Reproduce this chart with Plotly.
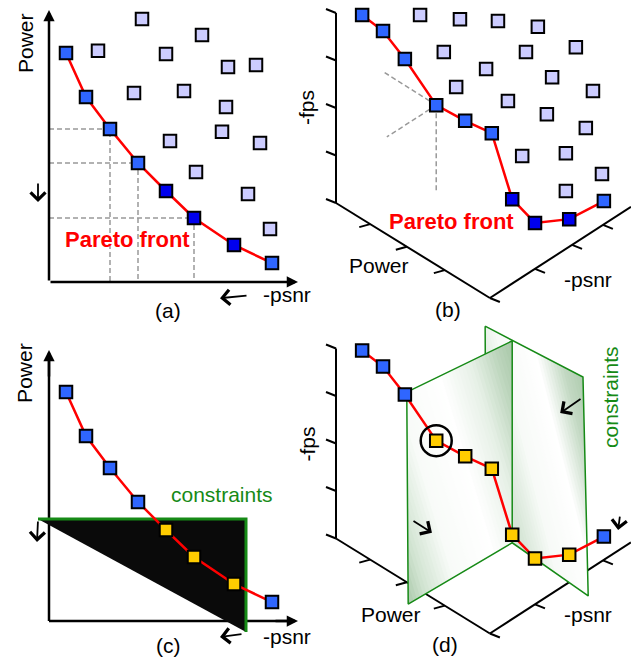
import plotly.graph_objects as go

# ---------------------------------------------------------------------------
# Panels (a) and (c): 2-D objective space, -psnr (x) vs Power (y), 0..10 units
# ---------------------------------------------------------------------------
front_psnr = [0.68, 1.48, 2.44, 3.56, 4.68, 5.80, 7.40, 8.92]
front_power = [8.48, 6.85, 5.67, 4.41, 3.37, 2.37, 1.37, 0.70]
front_kind_a = ["light", "light", "light", "light", "dark", "dark", "dark", "light"]
front_kind_c = ["light", "light", "light", "light", "feasible", "feasible", "feasible", "light"]

dominated_psnr = [3.72, 6.12, 1.96, 4.68, 7.16, 8.28, 3.40, 5.40, 7.08, 4.84, 6.92, 8.44, 5.88, 7.96, 8.84]
dominated_power = [9.74, 9.15, 8.56, 8.44, 7.96, 8.04, 7.00, 7.07, 6.48, 5.22, 5.56, 5.15, 4.07, 3.26, 1.96]

guide_points = [2, 3, 5]          # front points projected onto both axes in (a)

constraint_psnr = [-0.44, 7.88, 7.88]
constraint_power = [3.78, 3.78, -0.41]

# ---------------------------------------------------------------------------
# Panels (b) and (d): 3-D objective space (Power, -psnr, -fps) drawn in an
# oblique projection; u/v are the projected page coordinates
# ---------------------------------------------------------------------------
front3_u = [0.55, 0.99, 1.45, 2.11, 2.72, 3.28, 3.71, 4.19, 4.91, 5.64]
front3_v = [3.96, 3.62, 3.03, 2.06, 1.73, 1.47, 0.08, -0.42, -0.34, 0.04]
front3_kind_b = ["light"] * 6 + ["dark", "dark", "dark", "light"]
front3_kind_d = ["light"] * 3 + ["feasible"] * 6 + ["light"]

dominated3_u = [1.77, 2.61, 3.41, 4.25, 2.27, 4.00, 5.05, 3.16, 4.55, 5.41, 2.53, 3.62, 4.44, 5.26, 3.92, 4.84, 5.60, 4.84]
dominated3_v = [3.96, 3.87, 3.83, 3.71, 3.18, 3.18, 3.28, 2.82, 2.65, 2.36, 2.44, 2.15, 1.87, 1.58, 0.99, 1.05, 0.61, 0.25]

# projections of front point 3 onto the three coordinate planes in (b)
projection_u = [0.97, 1.07, 2.11]
projection_v = [2.78, 1.39, 0.21]
projected_point = 3
selected_point = 3                 # circled solution in (d)

# projected axes: fps axis (vertical), Power axis, -psnr axis
fps_axis_u, fps_axis_v = [0.0, 0.0], [0.0, 4.0]
power_axis_u, power_axis_v = [0.0, 3.24], [0.0, -2.0]
psnr_axis_u, psnr_axis_v = [3.24, 6.21], [-2.0, -0.08]
fps_ticks = [0, 1, 2, 3, 4]
power_ticks_u = [0.72, 1.49, 2.29]
psnr_ticks_u = [3.24, 4.19, 4.97, 5.62]

# constraint planes in (d)
plane1_u = [1.49, 3.71, 3.71, 1.52]
plane1_v = [3.08, 4.16, -0.09, -1.38]
plane2_u = [3.14, 5.20, 5.31, 3.71, 3.16]
plane2_v = [4.47, 3.40, -1.21, -0.09, 0.18]

# ---------------------------------------------------------------------------
COLORS = {"light": "#2f66ff", "dark": "#0000ee", "feasible": "#ffcc00"}
DOMINATED = "#ccccff"
RED = "#ff0000"
GREEN = "#168a16"
FONT = "Liberation Sans, Arial, sans-serif"
W, H = 631, 660
SPLIT_X = 315 / W
LEFT_3D = 290 / W

fig = go.Figure()


def line(xr, yr, xs, ys, color="black", width=2, dash=None, **kw):
    fig.add_trace(go.Scatter(x=xs, y=ys, xaxis=xr, yaxis=yr, mode="lines",
                             line=dict(color=color, width=width, dash=dash),
                             hoverinfo="skip", showlegend=False, **kw))


def squares(xr, yr, xs, ys, colors, size=12.5):
    fig.add_trace(go.Scatter(x=xs, y=ys, xaxis=xr, yaxis=yr, mode="markers",
                             marker=dict(symbol="square", size=size, color=colors,
                                         line=dict(color="black", width=2)),
                             cliponaxis=False, hoverinfo="skip", showlegend=False))


# --- gradient-shaded polygons: thin bands across the polygon, each a solid fill
def _hex(c):
    c = c.lstrip("#")
    return [int(c[i:i + 2], 16) for i in (0, 2, 4)]


def _scale_color(scale, t):
    for (t0, c0), (t1, c1) in zip(scale[:-1], scale[1:]):
        if t0 <= t <= t1:
            f = 0 if t1 == t0 else (t - t0) / (t1 - t0)
            a, b = _hex(c0), _hex(c1)
            return "rgb(%d,%d,%d)" % tuple(round(p + (q - p) * f) for p, q in zip(a, b))
    return scale[-1][1]


def _clip(poly, dx, dy, c, keep_above):
    out = []
    n = len(poly)
    for i in range(n):
        p, q = poly[i], poly[(i + 1) % n]
        fp = p[0] * dx + p[1] * dy - c
        fq = q[0] * dx + q[1] * dy - c
        if not keep_above:
            fp, fq = -fp, -fq
        if fp >= 0:
            out.append(p)
        if (fp >= 0) != (fq >= 0):
            t = fp / (fp - fq)
            out.append((p[0] + t * (q[0] - p[0]), p[1] + t * (q[1] - p[1])))
    return out


def shaded(xr, yr, xs, ys, direction, scale, bands=48, edge=None, edge_width=1.5):
    poly = list(zip(xs, ys))
    dx, dy = direction
    proj = [x * dx + y * dy for x, y in poly]
    lo, hi = min(proj), max(proj)
    step = (hi - lo) / bands
    for k in range(bands):
        piece = _clip(poly, dx, dy, lo + (k - 0.35) * step, True)
        piece = _clip(piece, dx, dy, lo + (k + 1.35) * step, False)
        if len(piece) < 3:
            continue
        px = [p[0] for p in piece] + [piece[0][0]]
        py = [p[1] for p in piece] + [piece[0][1]]
        fig.add_trace(go.Scatter(x=px, y=py, xaxis=xr, yaxis=yr, mode="none",
                                 fill="toself",
                                 fillcolor=_scale_color(scale, (k + 0.5) / bands),
                                 hoverinfo="skip", showlegend=False))
    if edge:
        line(xr, yr, xs + xs[:1], ys + ys[:1], color=edge, width=edge_width)


annotations = []


def label(xr, yr, x, y, text, size=21, color="black", bold=False, angle=0):
    if bold:
        text = "<b>" + text + "</b>"
    annotations.append(dict(x=x, y=y, xref=xr, yref=yr, text=text, showarrow=False,
                            textangle=angle, xanchor="center", yanchor="middle",
                            font=dict(family=FONT, size=size, color=color)))


def arrow(xr, yr, tail, head, width=2, head_style=4, size=1.6, color="black"):
    annotations.append(dict(x=head[0], y=head[1], ax=tail[0], ay=tail[1],
                            xref=xr, yref=yr, axref=xr, ayref=yr, text="",
                            showarrow=True, arrowhead=head_style, arrowsize=size,
                            arrowwidth=width, arrowcolor=color, standoff=0))


# ----------------------------- panel (a) -----------------------------------
xa, ya = "x", "y"
for i in guide_points:
    px, pw = front_psnr[i], front_power[i]
    line(xa, ya, [0, px, px], [pw, pw, 0], color="#999999", width=1.5, dash="5px,3px")
squares(xa, ya, dominated_psnr, dominated_power, DOMINATED)
line(xa, ya, front_psnr, front_power, color=RED, width=2.5)
squares(xa, ya, front_psnr, front_power, [COLORS[k] for k in front_kind_a])
arrow(xa, ya, (0, 0), (0, 10.07), width=2.5, head_style=2, size=0.9)
arrow(xa, ya, (0, 0), (9.96, 0), width=2.5, head_style=2, size=0.9)
arrow(xa, ya, (7.96, -0.50), (6.84, -0.60), width=1.8)
arrow(xa, ya, (-0.44, 3.70), (-0.44, 2.96), width=1.8)
label(xa, ya, -0.96, 8.85, "Power", angle=-90)
label(xa, ya, 9.52, -0.48, "-psnr")
label(xa, ya, 4.76, -1.04, "(a)")
label(xa, ya, 3.12, 1.56, "Pareto front", size=22, color=RED, bold=True)

# ----------------------------- panel (c) -----------------------------------
xc, yc = "x3", "y3"
line(xc, yc, [0, 0], [0, 9.9], width=2.5)
line(xc, yc, [0, 9.8], [0, 0], width=2.5)
fig.add_trace(go.Scatter(x=constraint_psnr + constraint_psnr[:1],
                         y=constraint_power + constraint_power[:1],
                         xaxis=xc, yaxis=yc, mode="none", fill="toself",
                         fillcolor="#0a0a0a", hoverinfo="skip", showlegend=False))
line(xc, yc, constraint_psnr, constraint_power, color=GREEN, width=3)
line(xc, yc, front_psnr, front_power, color=RED, width=2.5)
squares(xc, yc, front_psnr, front_power, [COLORS[k] for k in front_kind_c])
arrow(xc, yc, (0, 9.0), (0, 10.04), width=2.5, head_style=2, size=0.9)
arrow(xc, yc, (9.0, 0), (9.96, 0), width=2.5, head_style=2, size=0.9)
arrow(xc, yc, (7.76, -0.48), (6.84, -0.59), width=1.8)
arrow(xc, yc, (-0.44, 3.74), (-0.48, 2.93), width=1.8)
label(xc, yc, -0.96, 9.19, "Power", angle=-90)
label(xc, yc, 9.52, -0.59, "-psnr")
label(xc, yc, 4.76, -0.89, "(c)")
label(xc, yc, 6.92, 4.70, "constraints", color=GREEN)


# ------------------------- 3-D axes for (b), (d) ---------------------------
def axes3d(xr, yr):
    line(xr, yr, fps_axis_u, fps_axis_v, width=2)
    line(xr, yr, power_axis_u, power_axis_v, width=2)
    line(xr, yr, psnr_axis_u, psnr_axis_v, width=2)
    for t in fps_ticks:
        line(xr, yr, [0, -0.21], [t, t + 0.084], width=2)
    slope_p = (power_axis_v[1] - power_axis_v[0]) / (power_axis_u[1] - power_axis_u[0])
    for u in power_ticks_u:
        v = power_axis_v[0] + slope_p * (u - power_axis_u[0])
        line(xr, yr, [u, u - 0.23], [v, v - 0.063], width=2)
    slope_s = (psnr_axis_v[1] - psnr_axis_v[0]) / (psnr_axis_u[1] - psnr_axis_u[0])
    for u in psnr_ticks_u:
        v = psnr_axis_v[0] + slope_s * (u - psnr_axis_u[0])
        line(xr, yr, [u, u + 0.21], [v, v - 0.084], width=2)


# ----------------------------- panel (b) -----------------------------------
xb, yb = "x2", "y2"
axes3d(xb, yb)
for pu, pv in zip(projection_u, projection_v):
    line(xb, yb, [front3_u[projected_point], pu], [front3_v[projected_point], pv],
         color="#999999", width=1.5, dash="5px,3px")
squares(xb, yb, dominated3_u, dominated3_v, DOMINATED)
line(xb, yb, front3_u, front3_v, color=RED, width=2.5)
squares(xb, yb, front3_u, front3_v, [COLORS[k] for k in front3_kind_b])
label(xb, yb, -0.63, 2.0, "-fps", angle=-90)
label(xb, yb, 0.91, -1.31, "Power")
label(xb, yb, 5.31, -1.62, "-psnr")
label(xb, yb, 2.36, -2.25, "(b)")
label(xb, yb, 2.44, -0.40, "Pareto front", size=22, color=RED, bold=True)

# ----------------------------- panel (d) -----------------------------------
xd, yd = "x4", "y4"
axes3d(xd, yd)
shaded(xd, yd, plane2_u, plane2_v, (1.0, 0.25),
       [[0, "#e4eee4"], [0.25, "#d6e6d6"], [0.45, "#f7faf7"], [0.7, "#ffffff"],
        [0.88, "#c3d9c3"], [1, "#b0cdb0"]], edge=GREEN)
shaded(xd, yd, plane1_u, plane1_v, (1.0, 0.3),
       [[0, "#a8c8a8"], [0.12, "#d2e4d2"], [0.3, "#f8fbf8"], [0.55, "#ffffff"],
        [0.75, "#e6f0e6"], [0.9, "#bcd5bc"], [1, "#a9c8a9"]], edge=GREEN)
line(xd, yd, front3_u, front3_v, color=RED, width=2.5)
squares(xd, yd, front3_u, front3_v, [COLORS[k] for k in front3_kind_d])
fig.add_trace(go.Scatter(x=[front3_u[selected_point]], y=[front3_v[selected_point]],
                         xaxis=xd, yaxis=yd, mode="markers",
                         marker=dict(symbol="circle-open", size=31, color="black",
                                     line=dict(width=2.5)),
                         hoverinfo="skip", showlegend=False))
arrow(xd, yd, (1.60, 0.39), (2.02, 0.12), width=1.8)
arrow(xd, yd, (5.18, 2.96), (4.72, 2.64), width=1.8)
arrow(xd, yd, (5.98, 0.49), (5.94, 0.18), width=1.8)
label(xd, yd, -0.59, 2.0, "-fps", angle=-90)
label(xd, yd, 1.16, -1.61, "Power")
label(xd, yd, 5.31, -1.61, "-psnr")
label(xd, yd, 2.29, -2.24, "(d)")
label(xd, yd, 5.79, 2.98, "constraints", color=GREEN, angle=-90)

# ----------------------------- layout --------------------------------------
hidden = dict(visible=False, fixedrange=True)
u_left = -46 / 47.5                 # 3-D panels start 46 px left of the fps axis
d_top = 322                         # (d) extends a little above the half-way line
fig.update_layout(
    width=W, height=H, margin=dict(l=0, r=0, t=0, b=0),
    paper_bgcolor="white", plot_bgcolor="rgba(0,0,0,0)", showlegend=False,
    xaxis=dict(domain=[0, SPLIT_X], range=[-1.96, 10.64], **hidden),
    yaxis=dict(domain=[0.5, 1], range=[-1.778, 10.444], **hidden),
    xaxis2=dict(domain=[LEFT_3D, 1], range=[u_left, 6.211], **hidden),
    yaxis2=dict(domain=[0.5, 1], range=[-2.674, 4.274], **hidden),
    xaxis3=dict(domain=[0, SPLIT_X], range=[-1.96, 10.64], **hidden),
    yaxis3=dict(domain=[0, 0.5], range=[-1.444, 10.778], **hidden),
    xaxis4=dict(domain=[LEFT_3D, 1], range=[u_left, 6.211], **hidden),
    yaxis4=dict(domain=[0, 1 - d_top / H], range=[-2.558, (538.5 - d_top) / 47.5], **hidden),
    annotations=annotations,
)

fig.write_html("out.html")
